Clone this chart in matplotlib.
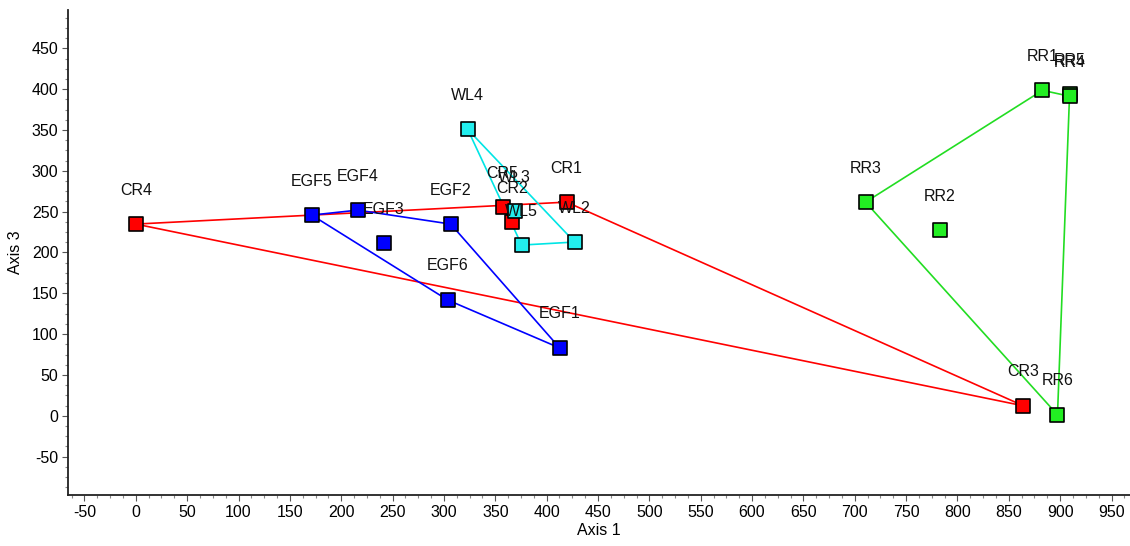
import matplotlib
matplotlib.use("Agg")
import matplotlib.pyplot as plt
from matplotlib.ticker import MultipleLocator

plt.rcParams['font.family'] = ['Liberation Sans', 'DejaVu Sans']
plt.rcParams['axes.unicode_minus'] = False

# Data (Axis 1, Axis 3)
cr_labels = ["CR4", "CR5", "CR2", "CR1", "CR3"]
cr_x = [0.0, 357.2, 366.0, 419.5, 864.3]
cr_y = [234.8, 255.6, 237.2, 261.7, 12.2]
cr_hull = ["CR4", "CR1", "CR3"]

egf_labels = ["EGF5", "EGF4", "EGF3", "EGF2", "EGF6", "EGF1"]
egf_x = [171.3, 216.1, 241.4, 306.6, 303.7, 412.7]
egf_y = [245.8, 251.9, 211.5, 234.8, 141.8, 83.1]
egf_hull = ["EGF5", "EGF4", "EGF2", "EGF1", "EGF6"]

wl_labels = ["WL4", "WL3", "WL5", "WL2"]
wl_x = [323.1, 368.9, 375.7, 427.3]
wl_y = [350.9, 250.7, 209.1, 212.8]
wl_hull = ["WL4", "WL2", "WL5"]

rr_labels = ["RR1", "RR5", "RR4", "RR3", "RR2", "RR6"]
rr_x = [882.8, 909.1, 909.1, 710.5, 782.6, 897.4]
rr_y = [398.6, 393.7, 391.4, 261.7, 227.4, 1.2]
rr_hull = ["RR3", "RR1", "RR4", "RR6"]

x_ticks = list(range(-50, 951, 50))
y_ticks = list(range(-50, 451, 50))

groups = [
    (cr_labels, cr_x, cr_y, cr_hull, "#ff0000", "#ff0000"),
    (egf_labels, egf_x, egf_y, egf_hull, "#0000ff", "#0000ff"),
    (wl_labels, wl_x, wl_y, wl_hull, "#00e5e5", "#22eeee"),
    (rr_labels, rr_x, rr_y, rr_hull, "#22dd22", "#22ee22"),
]

fig = plt.figure(figsize=(11.30, 5.46), dpi=100)
ax = fig.add_axes([0.0602, 0.0934, 0.9398, 0.8883])

for labels, xs, ys, hull, lc, mc in groups:
    idx = [labels.index(h) for h in hull] + [labels.index(hull[0])]
    ax.plot([xs[i] for i in idx], [ys[i] for i in idx], color=lc, lw=1.2, zorder=2)

for labels, xs, ys, hull, lc, mc in groups:
    ax.scatter(xs, ys, marker='s', s=95, facecolor=mc, edgecolor='black',
               linewidths=1.2, zorder=3)
    for lab, x, y in zip(labels, xs, ys):
        ax.annotate(lab, (x, y), xytext=(0, 24.5), textcoords='offset points',
                    ha='center', va='center', fontsize=11.5, color='#111111', zorder=4)

ax.set_xlim(-66, 968)
ax.set_ylim(-97, 497)
ax.set_xticks(x_ticks)
ax.set_yticks(y_ticks)
ax.xaxis.set_minor_locator(MultipleLocator(12.5))
ax.yaxis.set_minor_locator(MultipleLocator(12.5))
for s in ['top', 'right']:
    ax.spines[s].set_visible(False)
for s in ['left', 'bottom']:
    ax.spines[s].set_linewidth(1.3)
    ax.spines[s].set_color('#222222')
ax.tick_params(which='major', length=4, width=0.8, color='#555555', labelsize=11.5, pad=3)
ax.tick_params(which='minor', length=2.5, width=0.8, color='#888888')
ax.set_xlabel("Axis 1", fontsize=11.5, labelpad=2)
ax.set_ylabel("Axis 3", fontsize=11.5, labelpad=6)

fig.savefig("out.png", dpi=100)
